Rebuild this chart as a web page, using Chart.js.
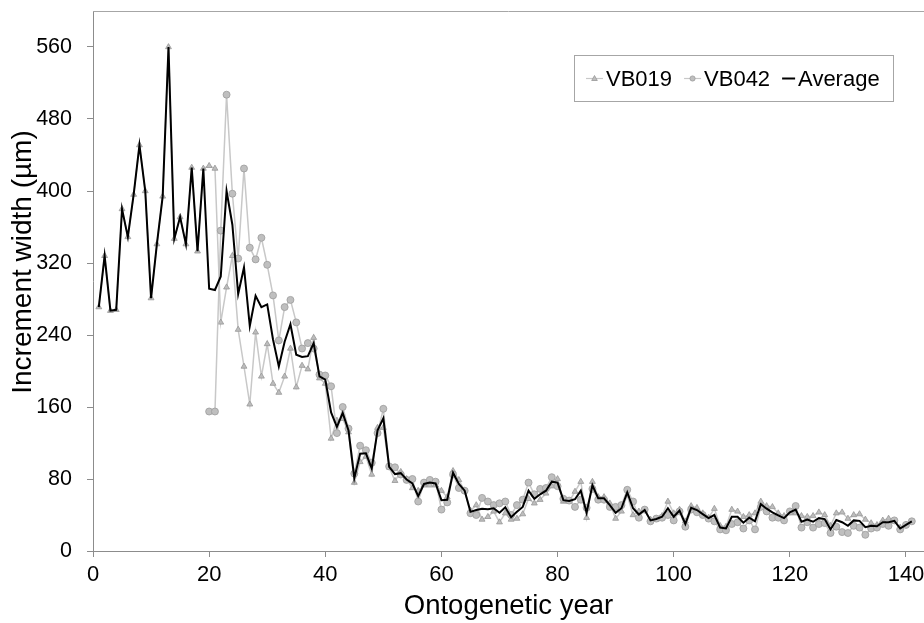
<!DOCTYPE html>
<html>
<head>
<meta charset="utf-8">
<script src="https://cdn.jsdelivr.net/npm/chart.js@4.4.1/dist/chart.umd.min.js"></script>
<style>
  html, body { margin: 0; padding: 0; background: #fff; }
  canvas { display: block; }
</style>
</head>
<body>
<canvas id="incrementChart" width="924" height="623"></canvas>
<script>
// Ontogenetic years (x values)
const years = [
  1, 2, 3, 4, 5, 6, 7, 8, 9, 10, 11, 12, 13, 14, 15, 16, 17, 18, 19, 20,
  21, 22, 23, 24, 25, 26, 27, 28, 29, 30, 31, 32, 33, 34, 35, 36, 37, 38, 39, 40,
  41, 42, 43, 44, 45, 46, 47, 48, 49, 50, 51, 52, 53, 54, 55, 56, 57, 58, 59, 60,
  61, 62, 63, 64, 65, 66, 67, 68, 69, 70, 71, 72, 73, 74, 75, 76, 77, 78, 79, 80,
  81, 82, 83, 84, 85, 86, 87, 88, 89, 90, 91, 92, 93, 94, 95, 96, 97, 98, 99, 100,
  101, 102, 103, 104, 105, 106, 107, 108, 109, 110, 111, 112, 113, 114, 115, 116, 117, 118, 119, 120,
  121, 122, 123, 124, 125, 126, 127, 128, 129, 130, 131, 132, 133, 134, 135, 136, 137, 138, 139, 140,
  141
];

// VB019 increment widths, years 1-140 (µm)
const vb019 = [
  271, 328, 267, 268, 380, 349, 396, 451, 400, 281,
  341, 394, 560, 347, 371, 341, 426, 333, 425, 428,
  425, 254, 293, 328, 246, 205, 163, 243, 194, 230,
  186, 176, 194, 225, 182, 206, 202, 237, 192, 186,
  125, 145, 147, 132, 76, 99, 105, 85, 137, 137,
  93, 78, 88, 80, 70, 67, 73, 73, 73, 67,
  60, 89, 79, 67, 45, 51, 35, 38, 44, 32,
  42, 35, 36, 41, 58, 53, 57, 64, 72, 80,
  55, 55, 66, 77, 37, 77, 60, 60, 53, 36,
  44, 62, 40, 44, 45, 35, 35, 39, 55, 42,
  46, 33, 50, 48, 42, 37, 47, 28, 27, 46,
  44, 38, 40, 42, 55, 50, 49, 42, 39, 42,
  42, 39, 38, 39, 43, 40, 28, 42, 43, 36,
  40, 41, 35, 31, 29, 34, 36, 33, 26, 29
];
const vb019Start = 1;

// VB042 increment widths, years 20-141 (µm)
const vb042 = [
  155, 155, 356, 507, 397, 325, 425, 337, 324, 348,
  318, 284, 234, 271, 279, 254, 225, 231, 225, 196,
  195, 183, 131, 160, 136, 86, 117, 112, 98, 131,
  158, 94, 93, 85, 79, 80, 55, 76, 79, 77,
  46, 54, 85, 70, 67, 42, 40, 59, 55, 51,
  53, 55, 40, 51, 57, 76, 63, 69, 70, 82,
  72, 58, 56, 49, 57, 48, 69, 57, 57, 49,
  49, 51, 68, 55, 37, 46, 33, 36, 37, 40,
  34, 44, 27, 46, 43, 40, 36, 33, 24, 23,
  30, 32, 25, 34, 24, 49, 44, 37, 37, 34,
  44, 50, 26, 32, 26, 30, 31, 20, 27, 21,
  20, 28, 26, 18, 25, 26, 30, 28, 34, 24,
  29, 33
];
const vb042Start = 20;

// Mean of both specimens, years 1-141 (µm)
const average = [
  271, 328, 267, 268, 380, 349, 396, 451, 400, 281,
  341, 394, 560, 347, 371, 341, 426, 333, 425,
  291.5, 290, 305, 400, 362.5, 285.5, 315, 250, 283.5, 271, 274,
  235, 205, 232.5, 252, 218, 215.5, 216.5, 231, 194, 190.5,
  154, 138, 153.5, 134, 81, 108, 108.5, 91.5, 134, 147.5,
  93.5, 85.5, 86.5, 79.5, 75, 61, 74.5, 76, 75, 56.5,
  57, 87, 74.5, 67, 43.5, 45.5, 47, 46.5, 47.5, 42.5,
  48.5, 37.5, 43.5, 49, 67, 58, 63, 67, 77, 76,
  56.5, 55.5, 57.5, 67, 42.5, 73, 58.5, 58.5, 51, 42.5,
  47.5, 65, 47.5, 40.5, 45.5, 34, 35.5, 38, 47.5, 38,
  45, 30, 48, 45.5, 41, 36.5, 40, 26, 25, 38,
  38, 31.5, 37, 33, 52, 47, 43, 39.5, 36.5, 43,
  46, 32.5, 35, 32.5, 36.5, 35.5, 24, 34.5, 32, 28,
  34, 33.5, 26.5, 28, 27.5, 32, 32, 33.5, 25, 29, 33
];
const averageStart = 1;

const FONT = '"Liberation Sans", Arial, sans-serif';
const AXIS_GREY = '#8c8c8c';
const Y_TITLE = 'Increment width (µm)';

function toPoints(values, startYear) {
  return values.map((v, i) => ({ x: years[startYear - 1 + i], y: v }));
}

// thin frame line along the top of the plot
const topFrame = {
  id: 'topFrame',
  afterDraw(chart) {
    const { ctx, chartArea } = chart;
    ctx.save();
    ctx.strokeStyle = '#a6a6a6';
    ctx.lineWidth = 1;
    ctx.beginPath();
    ctx.moveTo(chartArea.left, chartArea.top + 0.5);
    ctx.lineTo(chartArea.right, chartArea.top + 0.5);
    ctx.stroke();
    ctx.restore();
  }
};

// vertical y-axis title, sitting a little above the plot's middle
const yTitle = {
  id: 'yTitle',
  afterDraw(chart) {
    const ctx = chart.ctx;
    ctx.save();
    ctx.translate(23, 262);
    ctx.rotate(-Math.PI / 2);
    ctx.font = '28px ' + FONT;
    ctx.fillStyle = '#000';
    ctx.textAlign = 'center';
    ctx.textBaseline = 'middle';
    ctx.fillText(Y_TITLE, 0, 0);
    ctx.restore();
  }
};

// boxed legend in the upper right, one row
const boxLegend = {
  id: 'boxLegend',
  afterDraw(chart) {
    const ctx = chart.ctx;
    const box = { x: 574.5, y: 55.5, w: 319, h: 46 };
    const midY = box.y + box.h / 2;
    ctx.save();
    ctx.fillStyle = '#fff';
    ctx.fillRect(box.x, box.y, box.w, box.h);
    ctx.strokeStyle = '#a6a6a6';
    ctx.lineWidth = 1;
    ctx.strokeRect(box.x, box.y, box.w, box.h);

    ctx.font = '22px ' + FONT;
    ctx.textBaseline = 'middle';
    let x = 586;
    chart.data.datasets.forEach(ds => {
      const symW = ds.pointRadius > 0 ? 17 : 13;
      ctx.strokeStyle = ds.borderColor;
      ctx.lineWidth = ds.pointRadius > 0 ? 1.2 : 2;
      ctx.beginPath();
      ctx.moveTo(x, midY);
      ctx.lineTo(x + symW, midY);
      ctx.stroke();
      if (ds.pointRadius > 0) {
        const cx = x + symW / 2;
        ctx.fillStyle = ds.pointBackgroundColor;
        ctx.strokeStyle = ds.pointBorderColor;
        ctx.lineWidth = 0.8;
        ctx.beginPath();
        if (ds.pointStyle === 'triangle') {
          ctx.moveTo(cx, midY - 3);
          ctx.lineTo(cx + 2.8, midY + 2);
          ctx.lineTo(cx - 2.8, midY + 2);
          ctx.closePath();
        } else {
          ctx.arc(cx, midY, 2.6, 0, Math.PI * 2);
        }
        ctx.fill();
        ctx.stroke();
      }
      x += symW + 3;
      ctx.fillStyle = '#000';
      ctx.fillText(ds.label, x, midY + 1);
      x += ctx.measureText(ds.label).width + 12;
    });
    ctx.restore();
  }
};

const ctx = document.getElementById('incrementChart').getContext('2d');

new Chart(ctx, {
  type: 'line',
  data: {
    datasets: [
      {
        label: 'VB019',
        data: toPoints(vb019, vb019Start),
        borderColor: '#c8c8c8',
        borderWidth: 1.5,
        pointStyle: 'triangle',
        pointRadius: 3.4,
        pointBackgroundColor: '#bdbdbd',
        pointBorderColor: '#979797',
        pointBorderWidth: 0.8,
        order: 3,
      },
      {
        label: 'VB042',
        data: toPoints(vb042, vb042Start),
        borderColor: '#c8c8c8',
        borderWidth: 1.5,
        pointStyle: 'circle',
        pointRadius: 3.5,
        pointBackgroundColor: '#bfbfbf',
        pointBorderColor: '#9c9c9c',
        pointBorderWidth: 0.8,
        order: 2,
      },
      {
        label: 'Average',
        data: toPoints(average, averageStart),
        borderColor: '#000000',
        borderWidth: 2,
        pointRadius: 0,
        order: 1,
      },
    ],
  },
  options: {
    responsive: false,
    animation: false,
    events: [],
    layout: { autoPadding: false, padding: { top: 11, right: 0, bottom: 0, left: 0 } },
    elements: { line: { tension: 0 } },
    plugins: {
      legend: { display: false },
      tooltip: { enabled: false },
    },
    scales: {
      x: {
        type: 'linear',
        min: 0,
        max: 143.1,
        afterFit(scale) {
          scale.height = 72;
          scale.paddingLeft = 0;
          scale.paddingRight = 0;
        },
        border: { color: AXIS_GREY, width: 1 },
        grid: { drawOnChartArea: false, color: AXIS_GREY, tickLength: 6 },
        ticks: {
          stepSize: 20,
          includeBounds: false,
          maxRotation: 0,
          padding: 5,
          color: '#000',
          font: { family: FONT, size: 22 },
        },
        title: {
          display: true,
          text: 'Ontogenetic year',
          color: '#000',
          font: { family: FONT, size: 27.5 },
          padding: { top: 0, bottom: 0 },
        },
      },
      y: {
        min: 0,
        max: 600,
        afterFit(scale) {
          scale.width = 93;
          scale.paddingTop = 0;
          scale.paddingBottom = 0;
        },
        border: { color: AXIS_GREY, width: 1 },
        grid: { drawOnChartArea: false, color: AXIS_GREY, tickLength: 6 },
        ticks: {
          stepSize: 80,
          includeBounds: false,
          padding: 15,
          color: '#000',
          font: { family: FONT, size: 21.5 },
        },
        title: { display: false },
      },
    },
  },
  plugins: [topFrame, yTitle, boxLegend],
});
</script>
</body>
</html>
